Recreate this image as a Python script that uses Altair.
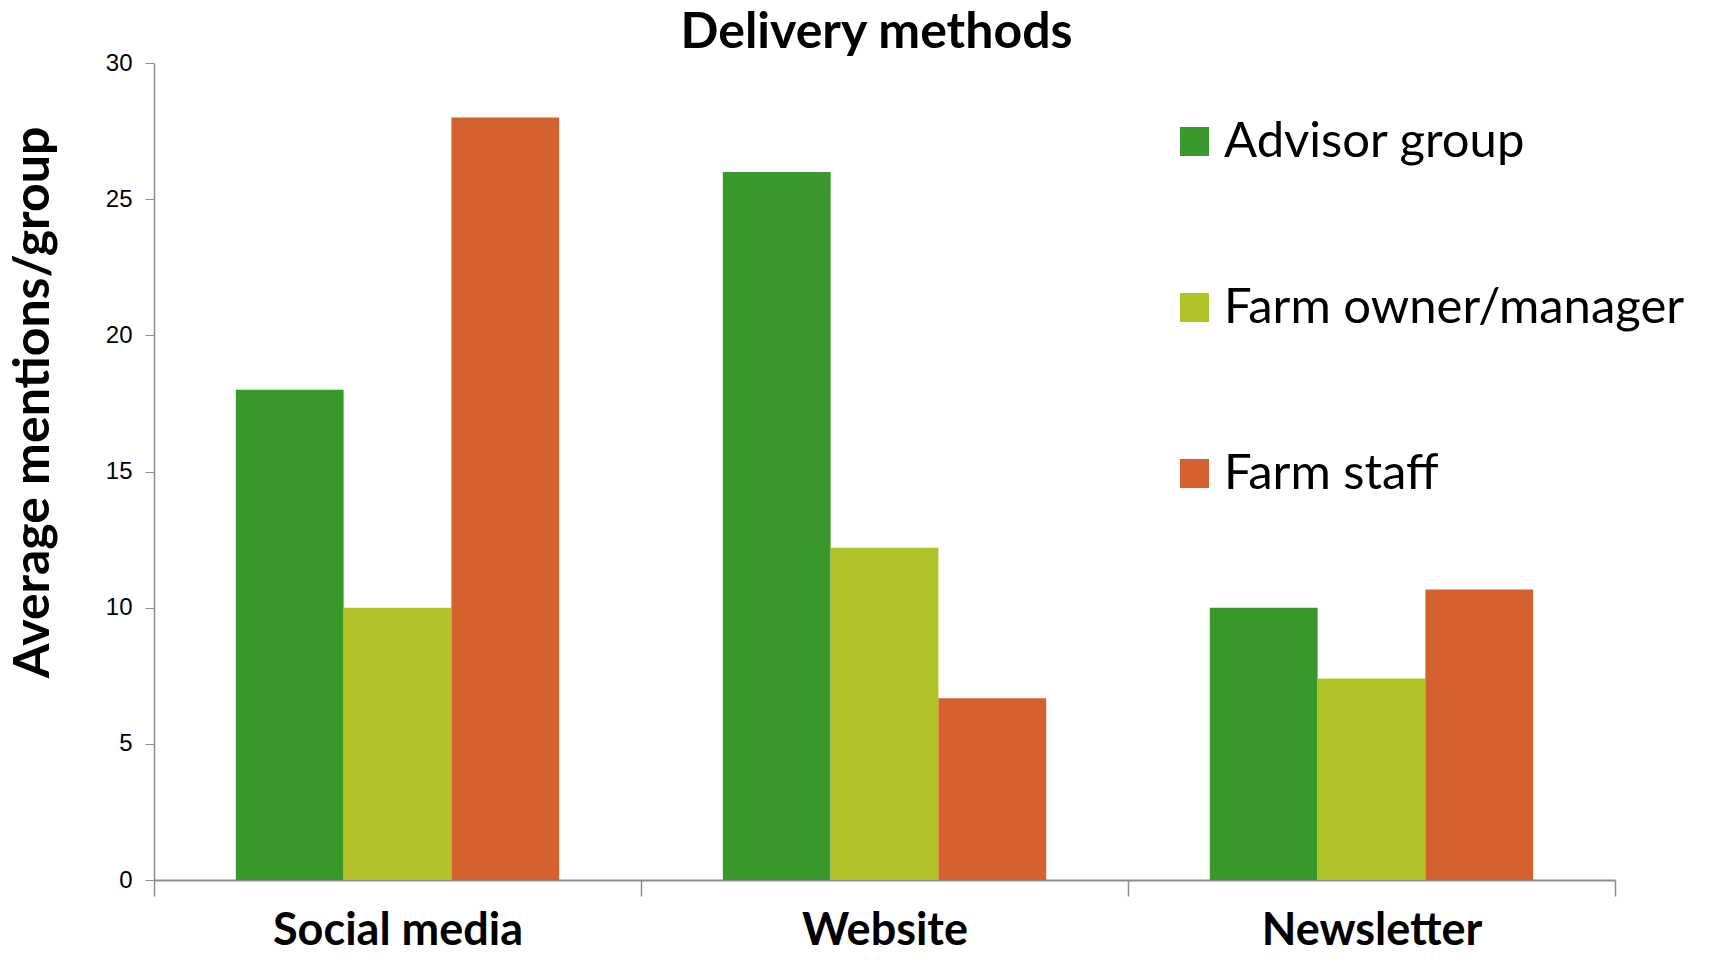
import altair as alt
import pandas as pd

methods = ["Social media", "Website", "Newsletter"]
groups = ["Advisor group", "Farm owner/manager", "Farm staff"]
advisor = [18.0, 26.0, 10.0]
owner = [10.0, 12.2, 7.4]
staff = [28.0, 6.67, 10.67]
colors = ["#38982b", "#b1c226", "#d4622e"]

rows = []
for i, m in enumerate(methods):
    for g, vals in zip(groups, [advisor, owner, staff]):
        rows.append({"method": m, "group": g, "value": vals[i]})
df = pd.DataFrame(rows)

W, H = 1461, 817

chart = alt.Chart(df).mark_bar().encode(
    x=alt.X("method:N", sort=methods,
            scale=alt.Scale(paddingInner=0, paddingOuter=0),
            axis=alt.Axis(title=None, labelAngle=0, labelFont="Lato", labelFontWeight="bold",
                          labelFontSize=45, labelColor="#000000", labelPadding=48,
                          labelBaseline="alphabetic",
                          labelLimit=800, tickBand="extent", tickSize=16, tickColor="#8c8c8c",
                          domainColor="#8c8c8c", domainWidth=2, tickWidth=1.5)),
    xOffset=alt.XOffset("group:N", sort=groups,
                        scale=alt.Scale(paddingInner=0, paddingOuter=0.759)),
    y=alt.Y("value:Q", scale=alt.Scale(domain=[0, 30], nice=False),
            axis=alt.Axis(title="Average mentions/group", values=[0, 5, 10, 15, 20, 25, 30],
                          grid=False, labelFont="Liberation Sans", labelFontSize=24,
                          labelColor="#000000", labelPadding=13, tickSize=9,
                          tickColor="#8c8c8c", domainColor="#8c8c8c", domainWidth=1.5,
                          titleFont="Lato", titleFontWeight="bold", titleFontSize=50,
                          titleColor="#000000", titleAngle=-90, titleX=-121, titleY=339,
                          titleAlign="center", titleBaseline="middle")),
    color=alt.Color("group:N", sort=groups,
                    scale=alt.Scale(domain=groups, range=colors),
                    legend=alt.Legend(title=None, orient="none", legendX=1016, legendY=54,
                                      symbolType="square", symbolSize=841, symbolStrokeWidth=0,
                                      labelFont="Lato", labelFontSize=49, labelColor="#000000",
                                      labelOffset=5, rowPadding=116, labelLimit=800)),
).properties(
    width=W, height=H,
    title=alt.TitleParams("Delivery methods", font="Lato", fontWeight="bold", fontSize=50,
                          color="#000000", anchor="middle", offset=-7, dx=-8),
    autosize=alt.AutoSizeParams(type="none"),
    padding={"left": 146, "top": 55, "right": 100, "bottom": 74},
).configure_view(stroke=None)

chart.save("out.html", embed_options={"renderer": "svg", "actions": False})
